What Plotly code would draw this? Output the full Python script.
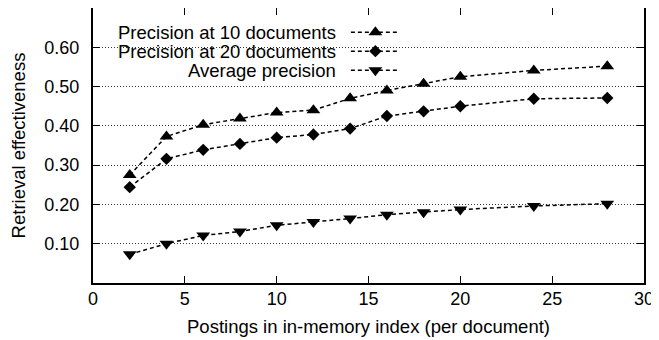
import plotly.graph_objects as go

postings = [2, 4, 6, 8, 10, 12, 14, 16, 18, 20, 24, 28]
prec_at_10 = [0.275, 0.373, 0.403, 0.419, 0.434, 0.440, 0.470, 0.490, 0.507, 0.525, 0.541, 0.552]
prec_at_20 = [0.244, 0.316, 0.339, 0.354, 0.370, 0.378, 0.393, 0.425, 0.437, 0.450, 0.469, 0.471]
avg_prec = [0.073, 0.100, 0.121, 0.131, 0.147, 0.155, 0.164, 0.174, 0.180, 0.187, 0.196, 0.202]

series_names = ["Precision at 10 documents", "Precision at 20 documents", "Average precision"]
series_values = [prec_at_10, prec_at_20, avg_prec]
series_symbols = ["triangle-up", "diamond", "triangle-down"]
series_sizes = [12, 9.5, 12]

x_ticks = [0, 5, 10, 15, 20, 25, 30]
y_ticks = [0.1, 0.2, 0.3, 0.4, 0.5, 0.6]
y_tick_labels = ["0.10", "0.20", "0.30", "0.40", "0.50", "0.60"]

FONT = "Liberation Sans, Arial, Helvetica, sans-serif"
DASH = "4px,3px"

fig = go.Figure()
for name, vals, sym, sz in zip(series_names, series_values, series_symbols, series_sizes):
    fig.add_trace(go.Scatter(
        x=postings, y=vals, name=name, mode="lines+markers",
        line=dict(color="black", width=1.5, dash=DASH),
        marker=dict(symbol=sym, size=sz, color="black"),
        showlegend=False,
    ))

# gnuplot-style key: text right-aligned, sample on the right, opaque box
row_y = [0.912, 0.843, 0.774]
text_x = 0.445
sample_x0, sample_x1 = 0.468, 0.557
for name, sym, sz, ry in zip(series_names, series_symbols, series_sizes, row_y):
    fig.add_annotation(x=text_x, y=ry, xref="paper", yref="paper", text=name,
                       showarrow=False, xanchor="right", yanchor="middle",
                       font=dict(family=FONT, size=18.5, color="black"))
    fig.add_trace(go.Scatter(
        x=[sample_x0, sample_x1], y=[ry, ry],
        xaxis="x2", yaxis="y2", mode="lines", showlegend=False, hoverinfo="skip",
        line=dict(color="black", width=1.5, dash=DASH),
    ))
    fig.add_trace(go.Scatter(
        x=[(sample_x0 + sample_x1) / 2], y=[ry],
        xaxis="x2", yaxis="y2", mode="markers", showlegend=False, hoverinfo="skip",
        marker=dict(symbol=sym, size=sz, color="black"),
    ))

fig.add_shape(type="rect", xref="paper", yref="paper", x0=0.003, x1=0.58, y0=0.735, y1=0.995,
              fillcolor="white", line=dict(width=0), layer="between")

axis_common = dict(
    showline=True, linecolor="black", linewidth=2, mirror="allticks",
    ticks="inside", ticklen=7, tickwidth=1, tickcolor="black",
    tickfont=dict(family=FONT, size=18, color="black"),
    zeroline=False, automargin=False,
)

# the page body adds an 8px offset, so the figure is sized to fit the window
fig.update_layout(
    width=651, height=332,
    margin=dict(l=85, r=15, t=0, b=57),
    paper_bgcolor="white", plot_bgcolor="white",
    font=dict(family=FONT, size=18, color="black"),
    xaxis=dict(range=[0, 30], tickvals=x_ticks, showgrid=False, ticklabelstandoff=-2,
               title=dict(text="Postings in in-memory index (per document)",
                          font=dict(family=FONT, size=18.5), standoff=12),
               **axis_common),
    yaxis=dict(range=[0, 0.7], tickvals=y_ticks, ticktext=y_tick_labels,
               ticklabelstandoff=8,
               showgrid=True, gridcolor="#333", griddash="1px,2px", gridwidth=1,
               title=dict(text="Retrieval effectiveness",
                          font=dict(family=FONT, size=18.5), standoff=18),
               **axis_common),
    xaxis2=dict(range=[0, 1], overlaying="x", visible=False, fixedrange=True),
    yaxis2=dict(range=[0, 1], overlaying="y", visible=False, fixedrange=True),
)

fig.write_html("out.html")
